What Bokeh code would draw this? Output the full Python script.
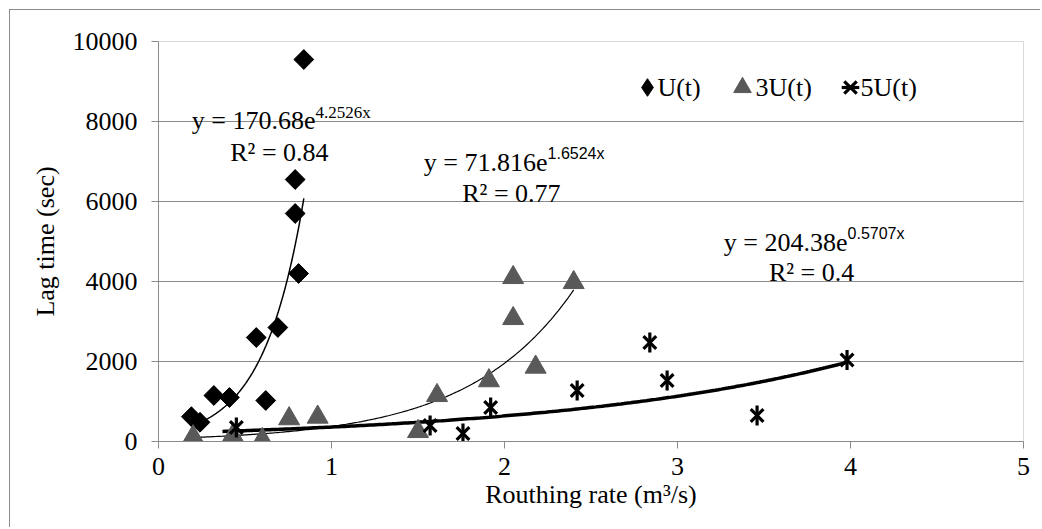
import numpy as np
from bokeh.plotting import figure
from bokeh.models import Range1d, FixedTicker, Label, Legend, LegendItem
from bokeh.embed import file_html
from bokeh.resources import INLINE

# ---------------- data ----------------
u1_x = [0.19, 0.24, 0.32, 0.41, 0.565, 0.62, 0.69, 0.79, 0.79, 0.81, 0.84]
u1_y = [620, 480, 1150, 1100, 2600, 1025, 2850, 6550, 5700, 4200, 9550]

u3_x = [0.20, 0.43, 0.60, 0.755, 0.92, 1.50, 1.61, 1.91, 2.05, 2.05, 2.18, 2.40]
u3_y = [120, 150, 50, 570, 610, 250, 1150, 1520, 4100, 3075, 1860, 3975]

u5_x = [0.45, 1.57, 1.76, 1.92, 2.42, 2.84, 2.94, 3.46, 3.98]
u5_y = [350, 400, 200, 850, 1275, 2475, 1525, 650, 2040]

series_labels = ["U(t)", "3U(t)", "5U(t)"]

# exponential trendlines y = a*exp(b*x), as printed on the chart
trend_a = [170.68, 71.816, 204.38]
trend_b = [4.2526, 1.6524, 0.5707]
trend_x0 = [0.19, 0.20, 0.37]
trend_x1 = [0.84, 2.40, 3.98]
eq_main = ["y = 170.68e", "y = 71.816e", "y = 204.38e"]
eq_exp = ["4.2526x", "1.6524x", "0.5707x"]
eq_r2 = ["R\u00b2 = 0.84", "R\u00b2 = 0.77", "R\u00b2 = 0.4"]

x_ticks = [0, 1, 2, 3, 4, 5]
y_ticks = [0, 2000, 4000, 6000, 8000, 10000]

# ---------------- figure ----------------
SERIF = "'Liberation Serif', 'Times New Roman', serif"
SANS = "'Liberation Sans', Arial, sans-serif"
GRID = "#8a8a8a"

p = figure(width=1031, height=518,
           x_range=Range1d(0, 5), y_range=Range1d(0, 10000),
           output_backend="svg", toolbar_location=None,
           min_border_left=148, min_border_right=18,
           min_border_top=31, min_border_bottom=87)
p.styles = {"margin-left": "9px", "margin-top": "9px",
            "border-left": "1px solid #8c8c8c", "border-top": "1px solid #8c8c8c"}

p.outline_line_color = "#d9d9d9"
p.xgrid.visible = False
p.ygrid.ticker = FixedTicker(ticks=y_ticks[1:-1])
p.ygrid.grid_line_color = GRID

for ax in (p.xaxis[0], p.yaxis[0]):
    ax.axis_line_color = GRID
    ax.major_tick_line_color = GRID
    ax.major_tick_out = 7
    ax.major_tick_in = 0
    ax.minor_tick_line_color = None
    ax.major_label_text_font = SERIF
    ax.major_label_text_font_size = "26px"
    ax.major_label_text_color = "black"
    ax.axis_label_text_font = SERIF
    ax.axis_label_text_font_size = "26px"
    ax.axis_label_text_font_style = "normal"
    ax.axis_label_text_color = "black"

p.xaxis.ticker = FixedTicker(ticks=x_ticks)
p.yaxis.ticker = FixedTicker(ticks=y_ticks)
p.xaxis.major_label_standoff = 9
p.yaxis.major_label_standoff = 14
p.xaxis.axis_label = "Routhing rate (m\u00b3/s)"
p.yaxis.axis_label = "Lag time (sec)"
p.xaxis.axis_label_standoff = 2
p.yaxis.axis_label_standoff = 10

# ---------------- trendlines ----------------
trend_widths = [1.5, 1.2, 3.5]
for a, b, x0, x1, w in zip(trend_a, trend_b, trend_x0, trend_x1, trend_widths):
    xs = np.linspace(x0, x1, 200)
    p.line(xs, a * np.exp(b * xs), line_color="black", line_width=w)

# ---------------- markers ----------------
# legend-only diamond (hidden beneath the rotated squares)
r_dleg = p.scatter(u1_x, u1_y, marker="diamond", size=19, fill_color="black", line_color="black")
r_u1 = p.scatter(u1_x, u1_y, marker="square", angle=np.pi / 4, size=14,
                 fill_color="black", line_color="black")
r_u3 = p.scatter(u3_x, u3_y, marker="triangle", size=21,
                 fill_color="#595959", line_color="#595959")
r_u5x = p.scatter(u5_x, u5_y, marker="x", size=18, line_color="black", line_width=3.2)
r_u5d = p.scatter(u5_x, u5_y, marker="dash", angle=np.pi / 2, size=20,
                  line_color="black", line_width=3.2)

# ---------------- legend (glyphs via Legend, texts as labels) ----------------
leg_renderers = [[r_dleg], [r_u3], [r_u5x, r_u5d]]
leg_glyph_x = [467, 562, 670]          # screen offsets of each glyph box from the frame's left
leg_text_x = [2.884, 3.451, 4.058]     # label start, data units
for rends, gx, tx, lab in zip(leg_renderers, leg_glyph_x, leg_text_x, series_labels):
    lg = Legend(items=[LegendItem(label=" ", renderers=rends)],
                location=(gx, 332), glyph_width=44, glyph_height=44,
                label_standoff=0, label_width=1, label_height=1,
                padding=0, margin=0, border_line_alpha=0, background_fill_alpha=0,
                label_text_font_size="2px")
    p.add_layout(lg)
    p.add_layout(Label(x=tx, y=8850, text=lab, text_align="left", text_baseline="middle",
                       text_font=SERIF, text_font_size="26px", text_color="black"))

# ---------------- equation labels ----------------
eq_pos = [  # (junction x, main baseline y, exponent baseline y, R2 centre x, R2 baseline y)
    (0.9075, 8025, 8225, 0.699, 7225),
    (2.249, 6975, 7200, 2.040, 6200),
    (3.983, 4975, 5200, 3.775, 4225),
]
exp_fonts = [SERIF, SANS, SANS]
exp_sizes = ["17px", "16px", "16px"]
for i, (jx, by, ey, rx, ry) in enumerate(eq_pos):
    p.add_layout(Label(x=jx, y=by, text=eq_main[i], text_align="right",
                       text_baseline="alphabetic", text_font=SERIF, text_font_size="26px",
                       text_color="black"))
    p.add_layout(Label(x=jx, y=ey, text=eq_exp[i], text_align="left",
                       text_baseline="alphabetic", text_font=exp_fonts[i],
                       text_font_size=exp_sizes[i], text_color="black"))
    p.add_layout(Label(x=rx, y=ry, text=eq_r2[i], text_align="center",
                       text_baseline="alphabetic", text_font=SERIF, text_font_size="26px",
                       text_color="black"))

open("out.html", "w").write(file_html(p, INLINE))
